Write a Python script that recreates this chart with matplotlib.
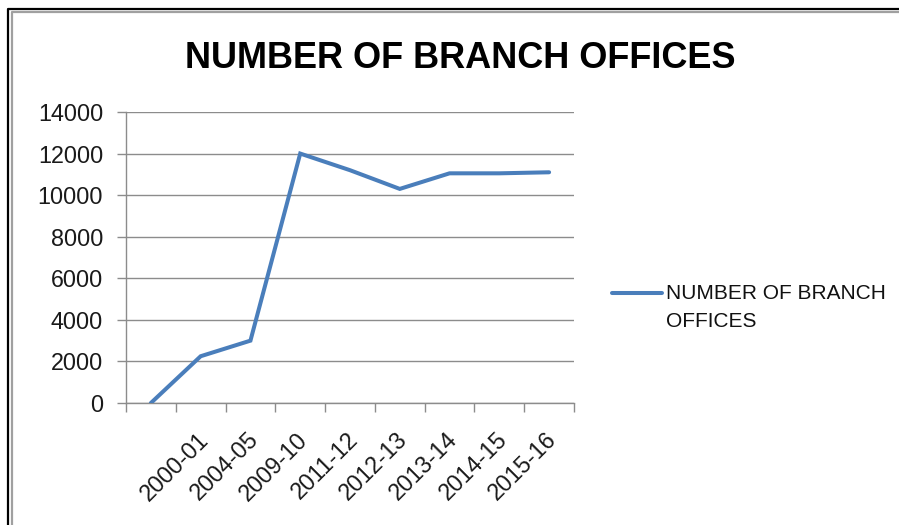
import matplotlib
matplotlib.use("Agg")
import matplotlib.pyplot as plt
import matplotlib.transforms as mtransforms
from matplotlib.lines import Line2D
from matplotlib.ticker import FixedLocator
import numpy as np

plt.rcParams['font.family'] = ['Liberation Sans', 'DejaVu Sans']

# data
categories = ['', '2000-01', '2004-05', '2009-10', '2011-12', '2012-13',
              '2013-14', '2014-15', '2015-16']
branch_offices = [0, 2250, 3000, 12000, 11200, 10300, 11050, 11050, 11100]
y_ticks = [0, 2000, 4000, 6000, 8000, 10000, 12000, 14000]
series_name = 'NUMBER OF BRANCH\nOFFICES'
title = 'NUMBER OF BRANCH OFFICES'

W, H = 899, 525
fig = plt.figure(figsize=(W / 100, H / 100), dpi=100)
ax = fig.add_axes([126 / W, 1 - 403 / H, (574 - 126) / W, (403 - 112) / H])

x = np.arange(len(categories))
ax.plot(x, branch_offices, color='#4A7EBB', lw=2.9,
        solid_joinstyle='miter', solid_capstyle='round', zorder=3)

ax.set_xlim(-0.5, len(categories) - 0.5)
ax.set_ylim(0, 14000)
ax.set_yticks(y_ticks)
ax.set_yticklabels([str(v) for v in y_ticks], fontsize=16.8, color='#1a1a1a')
ax.yaxis.grid(True, color='#8c8c8c', lw=1)
ax.set_axisbelow(True)

# labels at category centres, tick marks on the boundaries
ax.set_xticks(x[1:])
ax.set_xticklabels(categories[1:], rotation=45, ha='right', va='top',
                   rotation_mode='anchor', fontsize=16.8, color='#1a1a1a')
ax.xaxis.set_minor_locator(FixedLocator(np.arange(-0.5, len(categories), 1)))
ax.tick_params(axis='x', which='major', length=0, pad=18)
ax.tick_params(axis='x', which='minor', length=6.5, color='#8c8c8c', width=1)
ax.tick_params(axis='y', length=6.5, color='#8c8c8c', width=1, pad=10)
shift = mtransforms.ScaledTranslation(-4 / 100, 0, fig.dpi_scale_trans)
for lab in ax.get_xticklabels():
    lab.set_transform(lab.get_transform() + shift)

for s in ['top', 'right']:
    ax.spines[s].set_visible(False)
for s in ['left', 'bottom']:
    ax.spines[s].set_color('#8c8c8c')
    ax.spines[s].set_linewidth(1)

fig.text(460 / W, 1 - 59 / H, title, ha='center', va='center',
         fontsize=26, fontweight='bold', color='black')

# legend
fig.add_artist(Line2D([612 / W, 662 / W], [1 - 293 / H, 1 - 293 / H],
                      color='#4A7EBB', lw=2.9, solid_capstyle='round'))
fig.text(666 / W, 1 - 284 / H, series_name, ha='left', va='top',
         fontsize=15, color='#111111', linespacing=1.62)

# window frame
fig.add_artist(Line2D([7.5 / W, 7.5 / W, 1], [0, 1 - 9 / H, 1 - 9 / H],
                      color='black', lw=1.6))
fig.add_artist(Line2D([11.5 / W, 11.5 / W, 1], [0, 1 - 12 / H, 1 - 12 / H],
                      color='#a0a0a0', lw=1.6))

fig.savefig('out.png', dpi=100)
